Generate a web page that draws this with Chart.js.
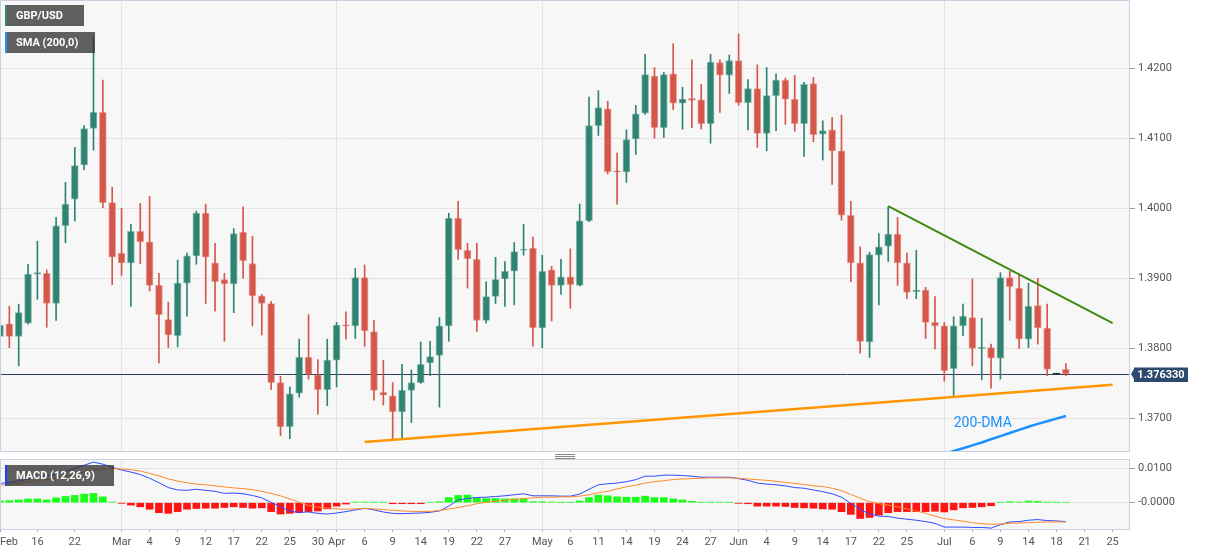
<!DOCTYPE html>
<html lang="en">
<head>
<meta charset="UTF-8">
<title>GBP/USD</title>
<script src="https://cdn.jsdelivr.net/npm/chart.js@4.4.1/dist/chart.umd.min.js"></script>
<style>
  html, body { margin: 0; padding: 0; background: #fff; }
  #wrap { position: relative; width: 1207px; height: 555px; overflow: hidden; }
  .pane { position: absolute; left: 0; width: 1207px; }
</style>
</head>
<body>
<div id="wrap">
  <div class="pane" style="top:0;height:452px"><canvas id="priceChart"></canvas></div>
  <div class="pane" style="top:452px;height:103px"><canvas id="macdChart"></canvas></div>
</div>
<script>
// daily candles, one slot per trading day (index 0 = Feb 10)
const open = [1.3817,1.3835,1.3817,1.3836,1.3906,1.3907,1.3864,1.3975,1.4013,1.4062,
  1.4114,1.4137,1.4008,1.3936,1.3922,1.3967,1.3952,1.3890,1.3841,1.3818,
  1.3893,1.3932,1.3993,1.3922,1.3898,1.3892,1.3966,1.3921,1.3875,1.3864,
  1.3751,1.3688,1.3736,1.3787,1.3762,1.3741,1.3783,1.3833,1.3832,1.3901,
  1.3824,1.3737,1.3732,1.3709,1.3740,1.3751,1.3779,1.3790,1.3832,1.3986,
  1.3940,1.3927,1.3840,1.3874,1.3899,1.3910,1.3940,1.3943,1.3829,1.3912,
  1.3890,1.3902,1.3890,1.3982,1.4118,1.4142,1.4053,1.4052,1.4099,1.4136,
  1.4189,1.4115,1.4192,1.4150,1.4157,1.4155,1.4121,1.4208,1.4190,1.4211,
  1.4151,1.4171,1.4107,1.4161,1.4183,1.4156,1.4121,1.4178,1.4106,1.4112,
  1.4082,1.3990,1.3922,1.3809,1.3933,1.3946,1.3963,1.3922,1.3881,1.3883,
  1.3837,1.3832,1.3771,1.3832,1.3844,1.3800,1.3801,1.3786,1.3901,1.3886,
  1.3813,1.3861,1.3829,1.3763,1.3770];
const high = [1.3867,1.3860,1.3863,1.3920,1.3953,1.3912,1.3987,1.4037,1.4087,1.4118,
  1.4244,1.4183,1.4030,1.4000,1.3977,1.4007,1.4017,1.3907,1.3866,1.3926,
  1.3936,1.3996,1.4006,1.3950,1.3907,1.3971,1.4002,1.3960,1.3877,1.3867,
  1.3760,1.3745,1.3813,1.3848,1.3784,1.3813,1.3837,1.3852,1.3914,1.3919,
  1.3840,1.3783,1.3751,1.3777,1.3769,1.3809,1.3810,1.3844,1.3993,1.4010,
  1.3950,1.3950,1.3895,1.3930,1.3924,1.3951,1.3977,1.3959,1.3933,1.3917,
  1.3927,1.3942,1.4006,1.4159,1.4168,1.4153,1.4079,1.4112,1.4147,1.4220,
  1.4201,1.4194,1.4235,1.4173,1.4212,1.4177,1.4220,1.4212,1.4219,1.4249,
  1.4184,1.4205,1.4201,1.4192,1.4186,1.4190,1.4180,1.4187,1.4125,1.4130,
  1.4133,1.4010,1.3945,1.3937,1.3964,1.4002,1.3987,1.3936,1.3940,1.3887,
  1.3874,1.3837,1.3845,1.3863,1.3899,1.3843,1.3806,1.3908,1.3910,1.3905,
  1.3893,1.3900,1.3863,1.3763,1.3778];
const low = [1.3802,1.3801,1.3775,1.3835,1.3870,1.3830,1.3840,1.3951,1.3982,1.4055,
  1.4083,1.4001,1.3891,1.3904,1.3860,1.3921,1.3882,1.3779,1.3801,1.3802,
  1.3846,1.3920,1.3864,1.3853,1.3810,1.3851,1.3900,1.3832,1.3819,1.3741,
  1.3675,1.3671,1.3730,1.3756,1.3706,1.3718,1.3745,1.3813,1.3814,1.3803,
  1.3726,1.3719,1.3670,1.3670,1.3694,1.3750,1.3761,1.3716,1.3810,1.3927,
  1.3886,1.3824,1.3836,1.3864,1.3860,1.3862,1.3933,1.3803,1.3801,1.3839,
  1.3877,1.3857,1.3889,1.3981,1.4104,1.4049,1.4006,1.4037,1.4077,1.4134,
  1.4100,1.4101,1.4141,1.4113,1.4115,1.4113,1.4093,1.4137,1.4164,1.4147,
  1.4112,1.4087,1.4082,1.4111,1.4120,1.4110,1.4074,1.4095,1.4069,1.4034,
  1.3983,1.3895,1.3793,1.3787,1.3862,1.3924,1.3890,1.3871,1.3871,1.3814,
  1.3799,1.3753,1.3732,1.3818,1.3775,1.3755,1.3743,1.3756,1.3840,1.3800,
  1.3801,1.3806,1.3761,1.3763,1.3761];
const close = [1.3833,1.3817,1.3851,1.3906,1.3908,1.3864,1.3975,1.4006,1.4061,1.4114,
  1.4137,1.4008,1.3930,1.3922,1.3967,1.3952,1.3890,1.3848,1.3819,1.3893,
  1.3932,1.3993,1.3930,1.3895,1.3892,1.3964,1.3925,1.3875,1.3864,1.3751,
  1.3688,1.3735,1.3787,1.3763,1.3741,1.3783,1.3833,1.3832,1.3901,1.3825,
  1.3740,1.3733,1.3709,1.3740,1.3751,1.3777,1.3788,1.3832,1.3986,1.3941,
  1.3928,1.3840,1.3874,1.3898,1.3910,1.3938,1.3941,1.3829,1.3910,1.3890,
  1.3902,1.3891,1.3982,1.4118,1.4144,1.4052,1.4052,1.4098,1.4135,1.4191,
  1.4115,1.4191,1.4150,1.4156,1.4154,1.4121,1.4209,1.4190,1.4211,1.4151,
  1.4171,1.4107,1.4161,1.4183,1.4156,1.4121,1.4177,1.4105,1.4111,1.4082,
  1.3990,1.3922,1.3810,1.3934,1.3945,1.3963,1.3922,1.3880,1.3883,1.3837,
  1.3832,1.3768,1.3832,1.3846,1.3800,1.3801,1.3786,1.3901,1.3888,1.3813,
  1.3860,1.3829,1.3770,1.3763,1.37633];

// 200-day SMA, visible only at the right end
const smaStart = 100;
const sma200 = [1.36447,1.36490,1.36533,1.36573,1.36614,1.36655,1.36700,1.36745,
  1.36790,1.36835,1.36880,1.36920,1.36958,1.36995,1.37033];

// MACD (12,26,9)
const macdLine = [0.0056,0.0059,0.0063,0.0068,0.0074,0.0078,0.0083,0.0091,0.0100,0.0109,
  0.0118,0.0112,0.0103,0.0095,0.0089,0.0082,0.0071,0.0058,0.0044,0.0037,
  0.0036,0.0039,0.0036,0.0033,0.0027,0.0028,0.0026,0.0021,0.0014,0.0001,
  -0.0012,-0.0025,-0.0028,-0.0027,-0.0031,-0.0033,-0.0030,-0.0026,-0.0021,-0.0016,
  -0.0021,-0.0027,-0.0031,-0.0032,-0.0031,-0.0030,-0.0028,-0.0024,-0.0010,0.0008,
  0.0012,0.0015,0.0016,0.0018,0.0020,0.0023,0.0026,0.0020,0.0020,0.0020,
  0.0019,0.0019,0.0025,0.0039,0.0052,0.0055,0.0057,0.0061,0.0067,0.0077,
  0.0077,0.0080,0.0080,0.0079,0.0077,0.0074,0.0074,0.0074,0.0074,0.0070,
  0.0065,0.0057,0.0054,0.0052,0.0049,0.0044,0.0042,0.0037,0.0032,0.0026,
  0.0016,-0.0002,-0.0019,-0.0033,-0.0039,-0.0040,-0.0045,-0.0048,-0.0051,-0.0055,
  -0.0060,-0.0071,-0.0071,-0.0071,-0.0072,-0.0072,-0.0074,-0.0064,-0.0056,-0.0055,
  -0.0051,-0.0049,-0.0052,-0.0053,-0.0055];
const signalLine = [0.0051,0.0053,0.0056,0.0060,0.0064,0.0068,0.0072,0.0078,0.0083,0.0090,
  0.0095,0.0098,0.0099,0.0098,0.0096,0.0092,0.0085,0.0078,0.0069,0.0063,
  0.0058,0.0054,0.0052,0.0049,0.0046,0.0043,0.0041,0.0038,0.0033,0.0027,
  0.0020,0.0011,0.0001,-0.0008,-0.0013,-0.0016,-0.0018,-0.0019,-0.0018,-0.0017,
  -0.0018,-0.0020,-0.0022,-0.0024,-0.0025,-0.0026,-0.0025,-0.0023,-0.0018,-0.0014,
  -0.0009,-0.0003,0.0001,0.0004,0.0007,0.0010,0.0012,0.0014,0.0016,0.0016,
  0.0017,0.0017,0.0019,0.0023,0.0029,0.0033,0.0040,0.0046,0.0051,0.0057,
  0.0061,0.0064,0.0067,0.0069,0.0070,0.0071,0.0072,0.0072,0.0072,0.0071,
  0.0069,0.0067,0.0065,0.0062,0.0059,0.0056,0.0053,0.0049,0.0047,0.0042,
  0.0035,0.0024,0.0013,0.0003,-0.0003,-0.0007,-0.0012,-0.0018,-0.0024,-0.0031,
  -0.0039,-0.0046,-0.0050,-0.0054,-0.0058,-0.0061,-0.0063,-0.0062,-0.0060,-0.0059,
  -0.0058,-0.0057,-0.0056,-0.0056,-0.0056];
const macdHist = [0.0005,0.0006,0.0008,0.0011,0.0011,0.0008,0.0014,0.0018,0.0021,0.0025,
  0.0027,0.0017,0.0002,-0.0002,-0.0007,-0.0012,-0.0019,-0.0029,-0.0031,-0.0026,
  -0.0019,-0.0017,-0.0016,-0.0016,-0.0014,-0.0012,-0.0014,-0.0016,-0.0015,-0.0026,
  -0.0033,-0.0031,-0.0029,-0.0026,-0.0024,-0.0018,-0.0010,-0.0004,0.0002,0.0002,
  0.0001,0.0001,-0.0003,-0.0003,-0.0003,-0.0003,0.0000,0.0003,0.0015,0.0021,
  0.0022,0.0015,0.0012,0.0012,0.0011,0.0011,0.0012,0.0003,0.0003,0.0002,
  0.0001,0.0001,0.0005,0.0015,0.0022,0.0020,0.0017,0.0016,0.0016,0.0019,
  0.0015,0.0015,0.0011,0.0008,0.0004,0.0001,0.0001,0.0001,0.0001,-0.0002,
  -0.0003,-0.0010,-0.0010,-0.0010,-0.0011,-0.0014,-0.0015,-0.0016,-0.0018,-0.0019,
  -0.0026,-0.0034,-0.0046,-0.0043,-0.0036,-0.0029,-0.0026,-0.0026,-0.0026,-0.0026,
  -0.0025,-0.0027,-0.0021,-0.0015,-0.0014,-0.0012,-0.0009,0.0001,0.0003,0.0002,
  0.0005,0.0004,0.0001,0.0001,0.0000];

// date axis
const tickPos = [0,4,8,13,16,19,22,25,28,31,34,36,39,42,45,48,51,54,58,61,64,67,70,73,76,
  79,82,85,88,91,94,97,101,104,107,110,113,116,119];
const tickText = ['Feb','16','22','Mar','4','9','12','17','22','25','30','Apr','6','9','14','19','22','27',
  'May','6','11','14','19','24','27','Jun','4','9','14','17','22','25','Jul','6','9','14','18','21','25'];
const monthPos = [13,36,58,79,101];
const priceTicks = [1.37,1.38,1.39,1.40,1.41,1.42];
const macdTicks = [0,0.01];

const lastPrice = 1.37633;
const resistance = [[95,1.4003],[119,1.3836]];
const support = [[39,1.3666],[119,1.3748]];

// ---- look ----
const X_MAX = 120.86;
const UP = '#2e8470', DOWN = '#d5574a', FLAT = '#222222';
const UP_EDGE = 'rgba(46,132,112,0.5)', DOWN_EDGE = 'rgba(213,87,74,0.5)';

Chart.defaults.font.family = 'Roboto, "Liberation Sans", Arial, sans-serif';
Chart.defaults.font.size = 11;
Chart.defaults.color = '#555';

const idx = close.map((_, i) => i);
const candleColor = idx.map(i => close[i] > open[i] ? UP : (close[i] < open[i] ? DOWN : FLAT));
const candleEdge = idx.map(i => close[i] > open[i] ? UP_EDGE : (close[i] < open[i] ? DOWN_EDGE : FLAT));

function dateAxis(showLabels, height) {
  return {
    type: 'linear', min: 0, max: X_MAX, offset: false,
    afterBuildTicks: s => { s.ticks = tickPos.concat([X_MAX]).map(v => ({ value: v })); },
    afterFit: s => { s.height = height; s.paddingLeft = 0; s.paddingRight = 0; },
    ticks: {
      display: showLabels, autoSkip: false, maxRotation: 0, align: 'inner', padding: 4,
      color: '#555',
      callback: v => { const k = tickPos.indexOf(v); return k >= 0 ? tickText[k] : ''; }
    },
    grid: {
      offset: false, drawTicks: showLabels, tickLength: 3,
      color: c => (c.tick && monthPos.includes(c.tick.value)) ? '#e3e3e3' : 'rgba(0,0,0,0)',
      tickColor: c => (c.tick && c.tick.value > 120) ? 'rgba(0,0,0,0)' : '#aaa'
    },
    border: { display: false }
  };
}

function valueAxis(min, max, ticks, fmt) {
  return {
    position: 'right', min: min, max: max,
    afterBuildTicks: s => { s.ticks = ticks.map(v => ({ value: v })); },
    afterFit: s => { s.width = 77; s.paddingTop = 0; s.paddingBottom = 0; },
    ticks: { callback: fmt, color: '#555', padding: 3 },
    grid: { color: '#e3e3e3', tickColor: '#999', tickLength: 5 },
    border: { display: false }
  };
}

const panelPlugin = {
  id: 'panel',
  beforeDraw(chart) {
    const { ctx, chartArea: a } = chart;
    ctx.save();
    ctx.fillStyle = '#f7f7f7';
    ctx.fillRect(a.left, a.top, a.right - a.left, a.bottom - a.top);
    ctx.restore();
  },
  afterDraw(chart) {
    const { ctx, chartArea: a } = chart;
    ctx.save();
    ctx.strokeStyle = '#c9d0e1';
    ctx.lineWidth = 1;
    ctx.strokeRect(a.left + 0.5, a.top - 0.5, a.right - a.left - 1, a.bottom - a.top + 1);
    ctx.restore();
  }
};

function tagBox(ctx, x, y, w, h, stripe, text) {
  ctx.save();
  ctx.fillStyle = 'rgba(52,52,52,0.78)';
  ctx.fillRect(x, y, w, h);
  ctx.fillStyle = stripe;
  ctx.fillRect(x, y, 2, h);
  ctx.fillStyle = '#fff';
  ctx.font = 'bold 11px Roboto, "Liberation Sans", Arial, sans-serif';
  ctx.textAlign = 'left';
  ctx.textBaseline = 'middle';
  ctx.fillText(text, x + 11, y + h / 2 + 0.5);
  ctx.restore();
}

const priceDecor = {
  id: 'priceDecor',
  beforeDatasetsDraw(chart) {
    const { ctx, chartArea: a, scales } = chart;
    const y = Math.round(scales.y.getPixelForValue(lastPrice)) + 0.5;
    ctx.save();
    ctx.strokeStyle = '#2f3f58';
    ctx.lineWidth = 1;
    ctx.beginPath();
    ctx.moveTo(a.left, y);
    ctx.lineTo(a.right, y);
    ctx.stroke();
    ctx.restore();
  },
  afterDraw(chart) {
    const { ctx, chartArea: a, scales } = chart;
    const y = scales.y.getPixelForValue(lastPrice);
    // last price tag on the axis
    ctx.save();
    ctx.fillStyle = '#2c4a6e';
    ctx.beginPath();
    ctx.moveTo(a.right + 1, y);
    ctx.lineTo(a.right + 4, y - 5);
    ctx.lineTo(a.right + 4, y - 6.5);
    ctx.lineTo(a.right + 58, y - 6.5);
    ctx.lineTo(a.right + 58, y + 8);
    ctx.lineTo(a.right + 4, y + 8);
    ctx.lineTo(a.right + 4, y + 5);
    ctx.closePath();
    ctx.fill();
    ctx.fillStyle = '#fff';
    ctx.font = 'bold 11px Roboto, "Liberation Sans", Arial, sans-serif';
    ctx.textAlign = 'center';
    ctx.textBaseline = 'middle';
    ctx.fillText(lastPrice.toFixed(6), a.right + 31, y + 1.5);
    // 200-DMA caption
    ctx.fillStyle = '#1e90ff';
    ctx.font = '14px Roboto, "Liberation Sans", Arial, sans-serif';
    ctx.textAlign = 'left';
    ctx.textBaseline = 'alphabetic';
    ctx.fillText('200-DMA', scales.x.getPixelForValue(102), scales.y.getPixelForValue(1.36869));
    ctx.restore();
    tagBox(ctx, 5, 5, 79, 21, '#2e8873', 'GBP/USD');
    tagBox(ctx, 5, 32, 90, 21, '#1e90ff', 'SMA (200,0)');
  }
};

const macdDecor = {
  id: 'macdDecor',
  afterDraw(chart) {
    const { ctx } = chart;
    ctx.save();
    ctx.strokeStyle = '#888';
    ctx.lineWidth = 1;
    [2.5, 4.5, 6.5].forEach(y => {
      ctx.beginPath(); ctx.moveTo(555, y); ctx.lineTo(575, y); ctx.stroke();
    });
    ctx.restore();
    tagBox(ctx, 5, 13, 109, 21, '#1f3cff', 'MACD (12,26,9)');
  }
};

new Chart(document.getElementById('priceChart'), {
  type: 'bar',
  data: {
    datasets: [
      {
        type: 'line', label: 'Resistance', order: 0, clip: 0,
        data: resistance.map(p => ({ x: p[0], y: p[1] })),
        borderColor: '#3d8b12', borderWidth: 2, pointRadius: 0
      },
      {
        type: 'line', label: 'Support', order: 0, clip: 0,
        data: support.map(p => ({ x: p[0], y: p[1] })),
        borderColor: '#ff9800', borderWidth: 2.5, pointRadius: 0
      },
      {
        type: 'line', label: 'SMA (200,0)', order: 1, clip: 0,
        data: sma200.map((v, k) => ({ x: smaStart + k, y: v })),
        borderColor: '#1e90ff', borderWidth: 2.5, pointRadius: 0
      },
      {
        label: 'Body', order: 2, clip: 0, grouped: false,
        data: idx.map(i => ({ x: i, y: [open[i], close[i]] })),
        backgroundColor: candleColor, borderColor: candleEdge,
        borderWidth: 1, borderSkipped: false, minBarLength: 1,
        barPercentage: 1, categoryPercentage: 1, maxBarThickness: 7
      },
      {
        label: 'Wick', order: 3, clip: 0, grouped: false,
        data: idx.map(i => ({ x: i, y: [low[i], high[i]] })),
        backgroundColor: candleColor, borderWidth: 0, minBarLength: 1,
        barPercentage: 1, categoryPercentage: 1, maxBarThickness: 1
      }
    ]
  },
  options: {
    responsive: true, maintainAspectRatio: false, animation: false,
    layout: { padding: { top: 1, bottom: 1, left: 0, right: 0 } },
    plugins: { legend: { display: false }, tooltip: { enabled: false } },
    scales: {
      x: dateAxis(false, 0),
      y: valueAxis(1.36533, 1.42961, priceTicks, v => v.toFixed(4))
    }
  },
  plugins: [panelPlugin, priceDecor]
});

new Chart(document.getElementById('macdChart'), {
  type: 'bar',
  data: {
    datasets: [
      {
        type: 'line', label: 'Signal', order: 0, clip: 0,
        data: idx.map(i => ({ x: i, y: signalLine[i] })),
        borderColor: '#ff8a2a', borderWidth: 1, pointRadius: 0
      },
      {
        type: 'line', label: 'MACD', order: 1, clip: 0,
        data: idx.map(i => ({ x: i, y: macdLine[i] })),
        borderColor: '#2f4bff', borderWidth: 1, pointRadius: 0
      },
      {
        label: 'Histogram', order: 2, clip: 0, grouped: false,
        data: idx.map(i => ({ x: i, y: macdHist[i] })),
        backgroundColor: idx.map(i => macdHist[i] >= 0 ? '#18ff18' : '#ff1414'),
        barPercentage: 1, categoryPercentage: 1, maxBarThickness: 7
      }
    ]
  },
  options: {
    responsive: true, maintainAspectRatio: false, animation: false,
    layout: { padding: { top: 8, bottom: 0, left: 0, right: 0 } },
    plugins: { legend: { display: false }, tooltip: { enabled: false } },
    scales: {
      x: dateAxis(true, 26),
      y: valueAxis(-0.00765, 0.01241, macdTicks, v => v === 0 ? '-0.0000' : v.toFixed(4))
    }
  },
  plugins: [panelPlugin, macdDecor]
});
</script>
</body>
</html>
